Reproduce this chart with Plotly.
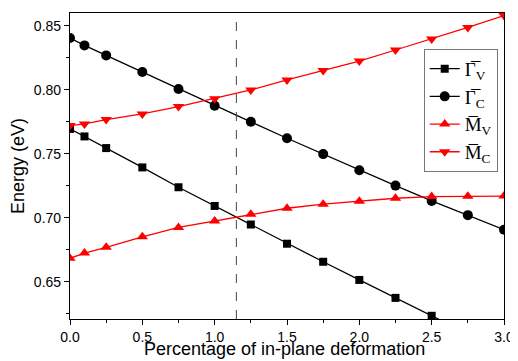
import plotly.graph_objects as go

strain = [0.0, 0.1, 0.25, 0.5, 0.75, 1.0, 1.25, 1.5, 1.75, 2.0, 2.25, 2.5, 2.75, 3.0]
gamma_v = [0.7695, 0.7636, 0.7545, 0.7394, 0.7239, 0.7093, 0.6948, 0.6798, 0.6657, 0.6515, 0.6375, 0.6235, 0.6095, 0.5955]
gamma_c = [0.8405, 0.8347, 0.8269, 0.8139, 0.8007, 0.7875, 0.7750, 0.7622, 0.7498, 0.7372, 0.7252, 0.7132, 0.7021, 0.6907]
m_v = [0.6684, 0.6725, 0.6770, 0.6852, 0.6925, 0.6975, 0.7028, 0.7075, 0.7107, 0.7130, 0.7153, 0.7166, 0.7169, 0.7170]
m_c = [0.7721, 0.7734, 0.7768, 0.7812, 0.7869, 0.7931, 0.7999, 0.8077, 0.8150, 0.8225, 0.8311, 0.8396, 0.8487, 0.8580]
names = ["Γ\u0305<sub>V</sub>", "Γ\u0305<sub>C</sub>", "M\u0305<sub>V</sub>", "M\u0305<sub>C</sub>"]
x_title = "Percentage of in-plane deformation"
y_title = "Energy (eV)"
critical_strain = 1.15

series = [
    (gamma_v, names[0], "black", "square", 8),
    (gamma_c, names[1], "black", "circle", 10),
    (m_v, names[2], "red", "triangle-up", 10),
    (m_c, names[3], "red", "triangle-down", 10),
]

fig = go.Figure()
for ys, nm, col, sym, sz in series:
    fig.add_trace(go.Scatter(
        x=strain, y=ys, name=nm, mode="lines+markers",
        line=dict(color=col, width=1.3),
        marker=dict(symbol=sym, size=sz, color=col),
    ))

fig.add_shape(type="line", xref="x", yref="paper", x0=critical_strain, x1=critical_strain,
              y0=0, y1=1, line=dict(color="#444444", width=1, dash="dash"))

axis_common = dict(
    showline=True, linecolor="black", linewidth=1.2, mirror=True,
    ticks="outside", ticklen=5, tickcolor="black", showgrid=False, zeroline=False,
    tickfont=dict(family="Liberation Sans", size=14, color="black"),
)
fig.update_xaxes(range=[0, 3.0], dtick=0.5, tickformat=".1f",
                 minor=dict(dtick=0.25, ticks="outside", ticklen=3, tickcolor="black"),
                 **axis_common)
fig.update_yaxes(range=[0.621, 0.860], dtick=0.05, tickformat=".2f",
                 minor=dict(dtick=0.025, ticks="outside", ticklen=3, tickcolor="black"),
                 title=dict(text=y_title, standoff=8,
                            font=dict(family="Liberation Sans", size=18, color="black")),
                 **axis_common)

fig.add_annotation(text=x_title, xref="paper", yref="paper", x=0.495, y=-0.098,
                   xanchor="center", yanchor="middle", showarrow=False,
                   font=dict(family="Liberation Sans", size=18, color="black"))

fig.update_layout(
    width=510, height=353,
    margin=dict(l=62, r=10, t=4, b=42),
    plot_bgcolor="white", paper_bgcolor="white",
    legend=dict(x=0.815, y=0.883, xanchor="left", yanchor="top",
                bgcolor="white", bordercolor="#777777", borderwidth=1,
                font=dict(family="Liberation Serif", size=19, color="black"),
                itemwidth=30),
)

fig.write_html("out.html")
